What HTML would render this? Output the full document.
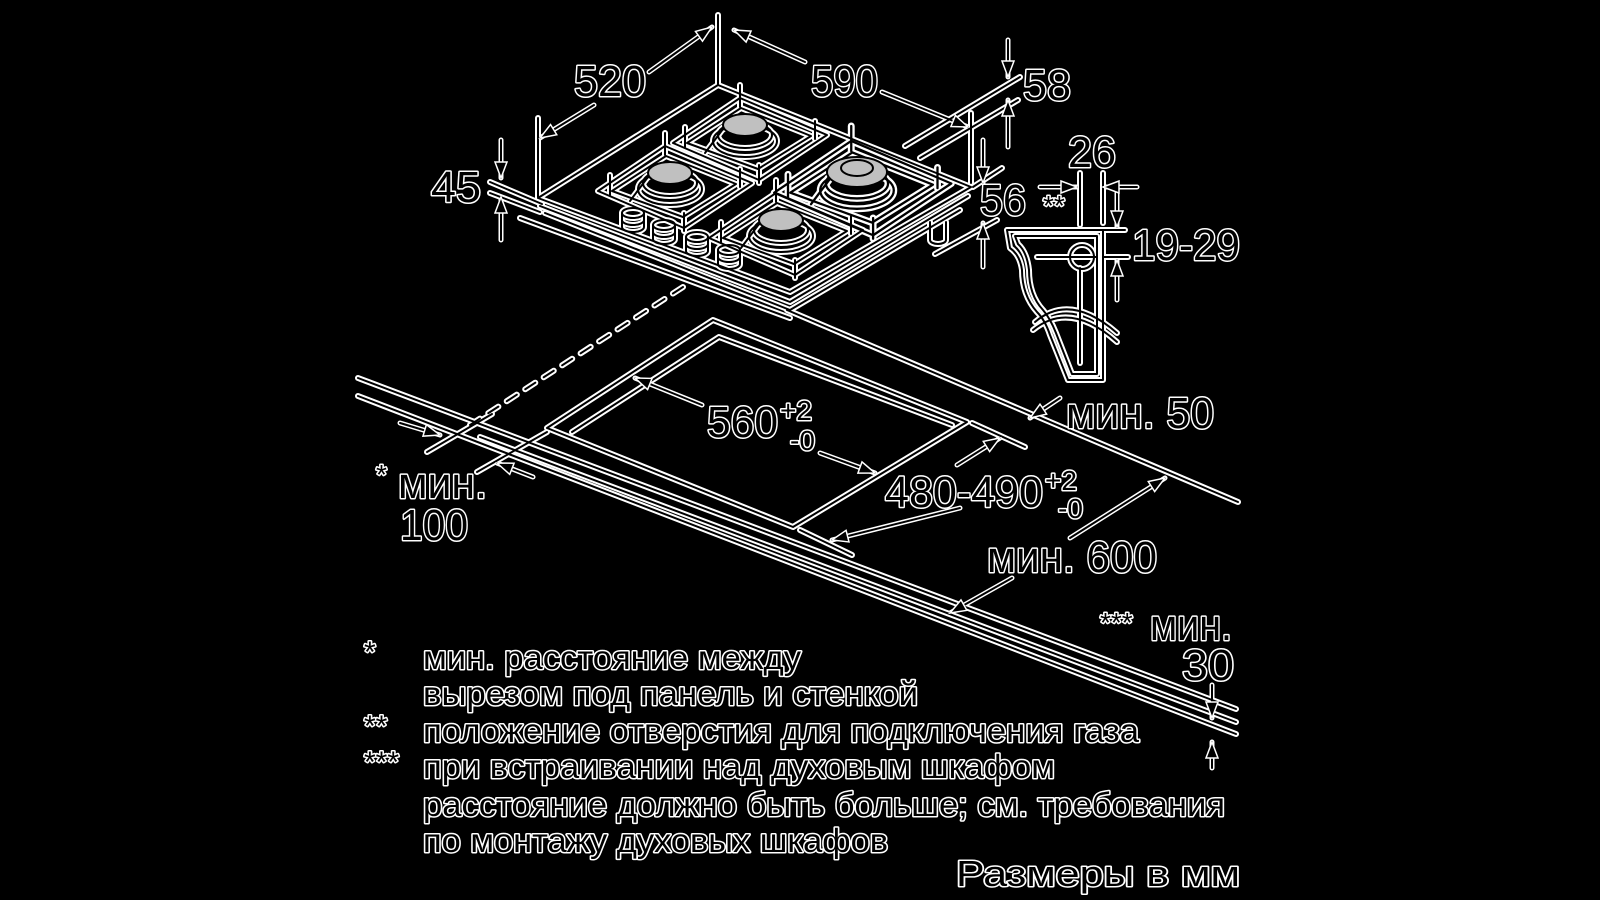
<!DOCTYPE html>
<html><head><meta charset="utf-8"><style>
html,body{margin:0;padding:0;background:#000;}
svg{display:block}
text{fill:#000;stroke:#fff;stroke-width:3px;paint-order:stroke;stroke-linejoin:round;font-family:"Liberation Sans","DejaVu Sans",sans-serif;}
</style></head><body>
<svg width="1600" height="900" viewBox="0 0 1600 900" xmlns="http://www.w3.org/2000/svg">
<rect width="1600" height="900" fill="#000"/>
<defs>
<marker id="ah" markerUnits="userSpaceOnUse" viewBox="-18 -8 20 16" refX="0" refY="0" markerWidth="20" markerHeight="16" orient="auto" overflow="visible">
<path d="M0,0 L-16,-6 L-16,6 Z" fill="#000" stroke="#fff" stroke-width="1.5"/>
</marker>
<g id="burner">
<polygon points="-72,18 -5,-27 82,10 14,55"/>
<polygon points="-58,18 -4,-17 66,11 13,44"/>
<line x1="-60" y1="2" x2="-60" y2="22"/><line x1="-5" y1="-40" x2="-5" y2="-18"/>
<line x1="70" y1="-4" x2="70" y2="14"/><line x1="14" y1="40" x2="14" y2="58"/>
<ellipse cx="0" cy="10" rx="27" ry="13"/>
<ellipse cx="0" cy="16" rx="32" ry="16"/>
<line x1="-22" y1="4" x2="-40" y2="28"/>
</g>
<g id="knob">
<ellipse cx="0" cy="0" rx="11" ry="5"/>
<path d="M-11,0 L-11,14 A11,5 0 0 0 11,14 L11,0"/>
<path d="M-11,7 A11,5 0 0 0 11,7"/>
</g>
<g id="L" fill="none">
<line x1="358" y1="378" x2="1236" y2="709"/>
<line x1="480" y1="437" x2="1236" y2="722"/>
<line x1="358" y1="396" x2="1236" y2="734"/>
<line x1="787" y1="310" x2="1238" y2="502"/>
<polygon points="547,428 713,320 967,422 793,527"/>
<polyline points="572,432 719,337 952,425"/>
<line x1="972" y1="423" x2="1025" y2="447"/>
<line x1="800" y1="530" x2="852" y2="555"/>
<line x1="427" y1="452" x2="492" y2="414"/>
<line x1="477" y1="472" x2="547" y2="432"/>
<polygon points="538,198 718,85 971,187 790,292"/>
<polyline points="540,206 790,302 968,196"/>
<polyline points="545,213 790,310 960,210"/>
<line x1="520" y1="218" x2="790" y2="318"/>
<line x1="490" y1="182" x2="542" y2="204"/>
<line x1="490" y1="193" x2="540" y2="212"/>
<line x1="718" y1="15" x2="718" y2="85"/>
<line x1="538" y1="118" x2="538" y2="197"/>
<line x1="971" y1="113" x2="971" y2="183"/>
<line x1="1020" y1="77" x2="905" y2="146"/>
<line x1="1018" y1="100" x2="920" y2="158"/>
<line x1="1002" y1="168" x2="973" y2="187"/>
<line x1="997" y1="220" x2="935" y2="254"/>
<path d="M930,222 L930,240 A8,4 0 0 0 946,240 L946,222"/>
<use href="#burner" transform="translate(745,125)"/>
<use href="#burner" transform="translate(670,173)"/>
<use href="#burner" transform="translate(857,172) scale(1.15)"/>
<use href="#burner" transform="translate(781,220)"/>
<use href="#knob" transform="translate(633,213)"/>
<use href="#knob" transform="translate(664,225)"/>
<use href="#knob" transform="translate(697,237)"/>
<use href="#knob" transform="translate(729,250)"/>
<path d="M1007,230 L1103,230 L1103,380 L1068,380 L1050,335 Q1045,320 1037,312 Q1022,295 1022,270 Q1020,255 1010,248 Z"/>
<path d="M1015,236 L1097,236 L1097,374 L1072,374 L1056,333 Q1050,318 1043,310 Q1029,295 1029,270 Q1027,252 1018,244 Z"/>
<path d="M1033,330 Q1070,300 1117,342"/>
<path d="M1035,322 Q1070,292 1117,333"/>
<circle cx="1082" cy="257" r="12"/>
<line x1="1080" y1="173" x2="1080" y2="225"/>
<line x1="1080" y1="268" x2="1080" y2="363"/>
<line x1="1103" y1="173" x2="1103" y2="223"/>
<line x1="1037" y1="257" x2="1097" y2="257"/>
<line x1="1103" y1="230" x2="1125" y2="230"/>
<line x1="1103" y1="257" x2="1128" y2="257"/>
</g>
<g id="A">
<line x1="649" y1="72" x2="712" y2="27"/><line x1="594" y1="105" x2="540" y2="138"/>
<line x1="805" y1="62" x2="734" y2="30"/><line x1="882" y1="92" x2="968" y2="127"/>
<line x1="1008" y1="40" x2="1008" y2="77"/><line x1="1008" y1="147" x2="1008" y2="100"/>
<line x1="983" y1="140" x2="983" y2="183"/><line x1="983" y1="267" x2="983" y2="223"/>
<line x1="501" y1="140" x2="501" y2="178"/><line x1="501" y1="240" x2="501" y2="197"/>
<line x1="1040" y1="187" x2="1077" y2="187"/><line x1="1137" y1="187" x2="1103" y2="187"/>
<line x1="1117" y1="193" x2="1117" y2="227"/><line x1="1117" y1="300" x2="1117" y2="260"/>
<line x1="702" y1="405" x2="635" y2="378"/><line x1="820" y1="453" x2="875" y2="473"/>
<line x1="957" y1="465" x2="1000" y2="438"/><line x1="960" y1="508" x2="832" y2="540"/>
<line x1="1070" y1="538" x2="1165" y2="478"/><line x1="1012" y1="578" x2="950" y2="613"/>
<line x1="1060" y1="398" x2="1030" y2="418"/>
<line x1="1212" y1="685" x2="1212" y2="718"/><line x1="1212" y1="768" x2="1212" y2="742"/>
<line x1="400" y1="423" x2="440" y2="435"/><line x1="533" y1="477" x2="497" y2="463"/>
</g>
</defs>
<g fill="none" stroke-linecap="round" stroke-linejoin="round">
<use href="#L" stroke="#fff" stroke-width="6"/>
<use href="#A" stroke="#fff" stroke-width="5"/>
<line x1="683" y1="287" x2="470" y2="425" stroke="#fff" stroke-width="6" stroke-dasharray="12 10"/>
<use href="#L" stroke="#000" stroke-width="2"/>
<use href="#A" stroke="#000" stroke-width="2"/>
<line x1="683" y1="287" x2="470" y2="425" stroke="#000" stroke-width="2" stroke-dasharray="12 10"/>
<use href="#A" stroke="none" marker-end="url(#ah)"/>
</g>
<g fill="#c0c0c0" stroke="#000" stroke-width="2">
<ellipse cx="745" cy="125" rx="22" ry="11"/>
<ellipse cx="670" cy="173" rx="22" ry="11"/>
<ellipse cx="857" cy="172" rx="30" ry="15"/>
<ellipse cx="857" cy="168" rx="16" ry="8"/>
<ellipse cx="781" cy="220" rx="22" ry="11"/>
</g>
<g font-size="44">
<text x="574" y="96" textLength="72" lengthAdjust="spacingAndGlyphs">520</text>
<text x="811" y="96" textLength="67" lengthAdjust="spacingAndGlyphs">590</text>
<text x="1023" y="100" textLength="48" lengthAdjust="spacingAndGlyphs">58</text>
<text x="431" y="202" textLength="50" lengthAdjust="spacingAndGlyphs">45</text>
<text x="980" y="215" textLength="46" lengthAdjust="spacingAndGlyphs">56</text>
<text x="1068" y="167" textLength="48" lengthAdjust="spacingAndGlyphs">26</text>
<text x="1132" y="260" textLength="108" lengthAdjust="spacingAndGlyphs">19-29</text>
<text x="707" y="437" textLength="71" lengthAdjust="spacingAndGlyphs">560</text>
<text x="885" y="507" textLength="158" lengthAdjust="spacingAndGlyphs">480-490</text>
<text x="1066" y="428" textLength="148" lengthAdjust="spacingAndGlyphs">мин. 50</text>
<text x="987" y="572" textLength="170" lengthAdjust="spacingAndGlyphs">мин. 600</text>
<text x="1150" y="640" textLength="82" lengthAdjust="spacingAndGlyphs">мин.</text>
<text x="1182" y="680" textLength="52" lengthAdjust="spacingAndGlyphs">30</text>
<text x="398" y="498" textLength="89" lengthAdjust="spacingAndGlyphs">мин.</text>
<text x="400" y="540" textLength="68" lengthAdjust="spacingAndGlyphs">100</text>
</g>
<g font-size="28">
<text x="780" y="420">+2</text>
<text x="790" y="450">-0</text>
<text x="1045" y="490">+2</text>
<text x="1058" y="518">-0</text>
<text x="1100" y="632">***</text>
<text x="376" y="484">*</text>
<text x="1043" y="215">**</text>
</g>
<g font-size="30">
<text x="364" y="662">*</text>
<text x="364" y="736">**</text>
<text x="364" y="772">***</text>
</g>
<g font-size="33">
<text x="423" y="669" textLength="378" lengthAdjust="spacingAndGlyphs">мин. расстояние между</text>
<text x="423" y="705" textLength="495" lengthAdjust="spacingAndGlyphs">вырезом под панель и стенкой</text>
<text x="423" y="742" textLength="716" lengthAdjust="spacingAndGlyphs">положение отверстия для подключения газа</text>
<text x="423" y="778" textLength="632" lengthAdjust="spacingAndGlyphs">при встраивании над духовым шкафом</text>
<text x="423" y="816" textLength="802" lengthAdjust="spacingAndGlyphs">расстояние должно быть больше; см. требования</text>
<text x="423" y="852" textLength="465" lengthAdjust="spacingAndGlyphs">по монтажу духовых шкафов</text>
<text x="956" y="886" font-size="36" textLength="284" lengthAdjust="spacingAndGlyphs">Размеры в мм</text>
</g>
</svg>
</body></html>
